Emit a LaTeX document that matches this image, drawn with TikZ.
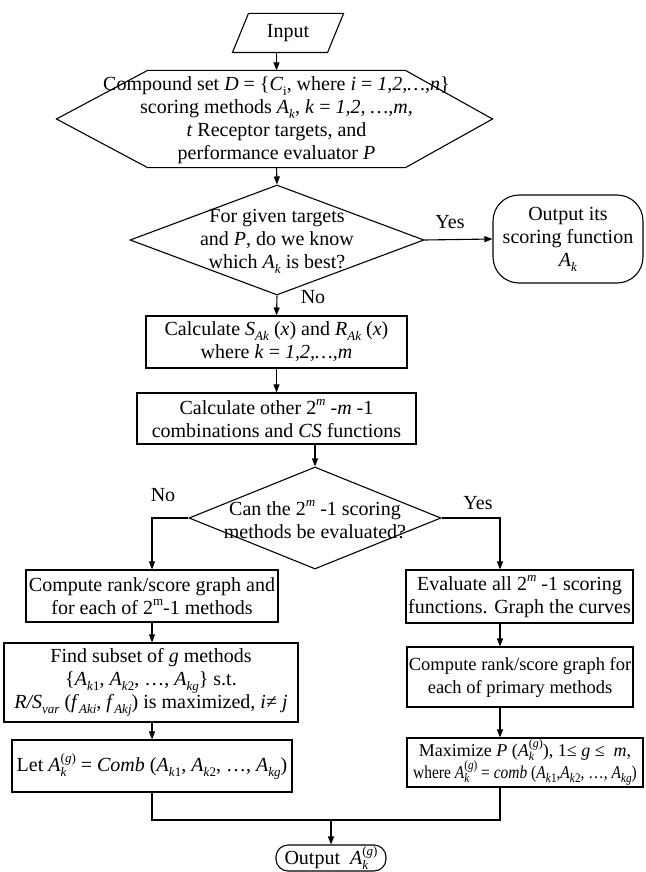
\documentclass[tikz,border=0pt]{standalone}
\usepackage{fontspec}
\setmainfont{Liberation Serif}
\usetikzlibrary{shapes.geometric,shapes.misc,arrows.meta,calc}
\newcommand{\ssz}{\fontsize{13}{13}\selectfont}
\newcommand{\sbs}[1]{\raisebox{-0.25em}{\ssz #1}}
\newcommand{\sps}[1]{\raisebox{0.45em}{\ssz #1}}
\newcommand{\sbsp}[2]{\makebox[0pt][l]{\sbs{#1}}\sps{#2}}
\newcommand{\Ak}{\textit{A}\sbs{\textit{k}}}
\newcommand{\Akg}{\textit{A}\sbsp{\textit{k}}{(\textit{g})}}
\newcommand{\Aki}[1]{\textit{A}\sbs{\textit{k}#1}}
\newcommand{\Akgg}{\textit{A}\sbs{\textit{kg}}}
\begin{document}
\begin{tikzpicture}[x=1pt,y=-1pt,line width=1.1pt,
  font={\fontsize{20}{23}\selectfont},
  box/.style={draw, rectangle, inner sep=0pt, align=center},
  txt/.style={inner sep=0pt, align=center},
  dia/.style={draw, diamond, inner sep=0pt},
  arr/.style={-{Triangle[length=8pt,width=6pt]}}]
\useasboundingbox (0,0) rectangle (645,872);

% input
\node[txt, minimum width=110pt, minimum height=38pt] (input) at (288,33) {Input};
\draw ([xshift=16pt]input.north west) -- (input.north east) -- ([xshift=-16pt]input.south east) -- (input.south west) -- cycle;

% hexagon
\node[inner sep=0pt, minimum width=257pt, minimum height=96pt] (hex) at (276.5,119) {};
\draw (hex.north west) -- (hex.north east) -- ([xshift=87pt]hex.east) -- (hex.south east) -- (hex.south west) -- ([xshift=-91pt]hex.west) -- cycle;
\node[txt] (hextxt) at (276.5,120) {Compound set \textit{D} = \{\textit{C}\sbs{i}, where \textit{i} = \textit{1,2,…,n}\}\\
scoring methods \Ak, \textit{k} = \textit{1,2, …,m,}\\
\textit{t} Receptor targets, and\\
performance evaluator \textit{P}};

% decision 1
\node[dia, minimum width=294pt, minimum height=110pt] (d1) at (277,240) {};
\node[txt] (d1txt) at (277,241.5) {For given targets\\and \textit{P}, do we know\\which \Ak{} is best?};

\node[box, rounded corners=26pt, minimum width=150pt, minimum height=88pt] (out1) at (568,239) {Output its\\scoring function\\\Ak};

\node[box, minimum width=261pt, minimum height=52pt] (calc1) at (276.5,342) {Calculate \textit{S}\sbs{\textit{Ak}} (\textit{x}) and \textit{R}\sbs{\textit{Ak}} (\textit{x})\\where \textit{k} = \textit{1,2,…,m}};

\node[box, minimum width=279pt, minimum height=51pt] (calc2) at (276.5,418.5) {Calculate other 2\sps{\textit{m}} -\textit{m} -1\\combinations and \textit{CS} functions};

% decision 2
\node[dia, minimum width=252pt, minimum height=102pt] (d2) at (315,518) {};
\node[txt] (d2txt) at (315,520) {Can the 2\sps{\textit{m}} -1 scoring\\methods be evaluated?};

% left column
\node[box, minimum width=252pt, minimum height=52pt] (comp1) at (152,596) {Compute rank/score graph and\\for each of 2\sps{m}-1 methods};
\node[box, minimum width=294pt, minimum height=79pt] (find) at (151,682.5) {Find subset of \textit{g} methods\\\{\Aki{1}, \Aki{2}, …, \Akgg\} s.t.\\\textit{R/S}\sbs{\textit{var}} (\textit{f}\sbs{\textit{Aki}}, \textit{f}\sbs{\textit{Akj}}) is maximized, \textit{i}≠ \textit{j}};
\node[box, minimum width=280pt, minimum height=52pt] (let) at (152,766) {\makebox[270pt]{Let \Akg{} = \textit{Comb} (\Aki{1}, \Aki{2}, …, \Akgg)}};

% right column
\node[box, minimum width=227pt, minimum height=53pt] (eval) at (519.5,596.5) {Evaluate all 2\sps{\textit{m}} -1 scoring\\functions. Graph the curves};
\node[box, minimum width=226pt, minimum height=60pt, font={\fontsize{18.5}{23}\selectfont}] (comp2) at (520,677) {Compute rank/score graph for\\each of primary methods};
\node[box, minimum width=236pt, minimum height=49pt, font={\fontsize{18}{22}\selectfont}] (maxi) at (525,762.5) {\def\ssz{\fontsize{12}{12}\selectfont}Maximize \textit{P} (\Akg), 1≤ \textit{g} ≤ \ \textit{m},\\\scalebox{0.86}[1]{where \Akg{} = \textit{comb} (\Aki{1},\Aki{2}, …, \Akgg)}};

% terminal
\node[box, rounded corners=12pt, minimum width=110pt, minimum height=26pt] (term) at (331,858) {Output\ \ \Akg};

% labels
\node[txt] (yes1) at (450,222) {Yes};
\node[txt] (no1) at (313,297) {No};
\node[txt] (no2) at (163,495) {No};
\node[txt] (yes2) at (478,503) {Yes};

% connectors
\coordinate (xr) at (500,0);
\coordinate (mrg) at (331,820);
\draw[arr] (input.south -| hex.north) -- (hex.north);
\draw[arr] (hex.south) -- (d1.north);
\draw[arr] (d1.east) -- (out1.west);
\draw[arr] (d1.south) -- (calc1.north);
\draw[arr] (calc1.south) -- (calc2.north);
\draw[arr] (calc2.south -| d2.north) -- (d2.north);
\draw[arr] (d2.west) -| (comp1.north);
\draw[arr] (d2.east) -| (eval.north -| xr);
\draw[arr] (comp1.south) -- (find.north -| comp1.south);
\draw[arr] (find.south -| let.north) -- (let.north);
\draw[arr] (eval.south -| xr) -- (comp2.north -| xr);
\draw[arr] (comp2.south -| xr) -- (maxi.north -| xr);
\draw (let.south) |- (mrg);
\draw (maxi.south -| xr) |- (mrg);
\draw[arr] (mrg) -- (term.north);
\end{tikzpicture}
\end{document}
